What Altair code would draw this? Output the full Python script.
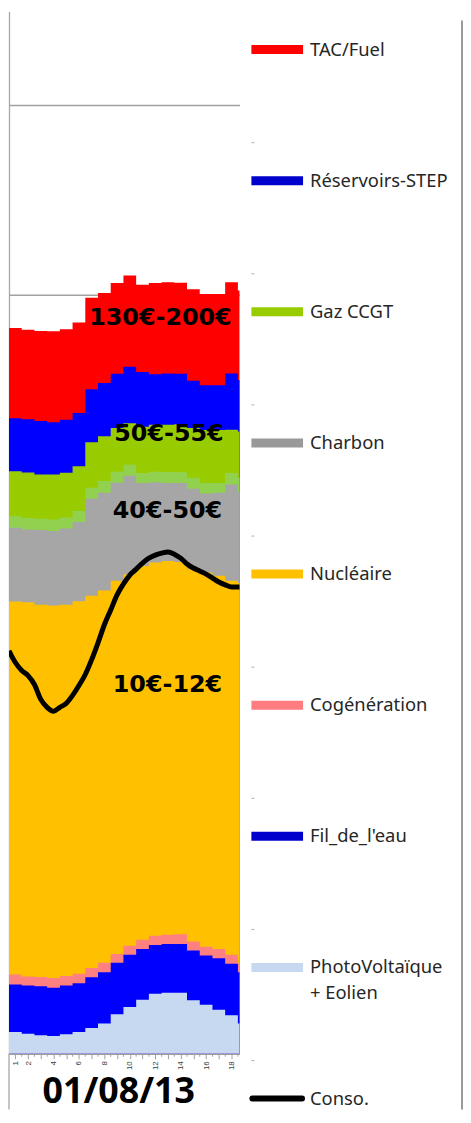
import altair as alt
import pandas as pd

# ---------------- data (MW) ----------------
hours = list(range(1, 20))

pv = [1150, 1060, 980, 930, 1030, 1150, 1360, 1590, 2080, 2460, 2850, 3160, 3210, 3210, 2820, 2580, 2320, 2030, 1590]
fil = [2500, 2540, 2570, 2550, 2570, 2570, 2670, 2710, 2710, 2760, 2670, 2570, 2570, 2570, 2620, 2590, 2710, 2710, 2710]
coge = [520, 470, 490, 510, 490, 490, 490, 490, 470, 470, 490, 490, 490, 520, 470, 470, 490, 470, 470]
nuc = [19660, 19710, 19620, 19620, 19570, 19630, 19610, 19610, 19660, 19570, 19690, 19660, 19690, 19610, 19620, 19710, 19660, 19710, 20030]
charbon = [3880, 3840, 3930, 3930, 4010, 4170, 5110, 5160, 5160, 5190, 4370, 4230, 4110, 4160, 4230, 4160, 4370, 5070, 4790]
gaz_autres = [610, 610, 600, 610, 580, 580, 580, 610, 580, 580, 520, 550, 580, 560, 580, 560, 520, 610, 750]
gaz = [2360, 2390, 2320, 2360, 2360, 2360, 2390, 2360, 2310, 2190, 2440, 2480, 2480, 2530, 2620, 2790, 2790, 2270, 2440]
step = [2800, 2800, 2830, 2760, 2790, 2800, 2800, 2800, 2850, 2970, 2880, 2660, 2710, 2660, 2500, 2360, 2360, 2970, 2710]
tac = [4750, 4720, 4730, 4790, 4770, 4770, 4820, 4750, 4790, 4810, 4600, 4800, 4800, 4800, 4810, 4810, 4810, 4800, 4720]

conso_hours = [0.5, 1.0, 1.5, 2.0, 2.5, 3.0, 3.5, 4.0, 4.5, 5.0, 5.5, 6.0, 6.5, 7.0, 7.5, 8.0, 8.5, 9.0, 9.5,
               10.0, 10.5, 11.0, 11.5, 12.0, 12.5, 13.0, 13.5, 14.0, 14.5, 15.0, 15.5, 16.0, 16.5, 17.0,
               17.5, 18.0, 18.5, 19.0]
conso = [21230, 20610, 20190, 19920, 19450, 18670, 18250, 18040, 18250, 18460, 18880, 19400, 19980, 20760,
         21650, 22600, 23380, 24170, 24750, 25220, 25530, 25850, 26110, 26270, 26370, 26430, 26320, 26110,
         25800, 25590, 25430, 25270, 25060, 24850, 24700, 24590, 24590, 24590]

series_names = ["PhotoVoltaïque + Eolien", "Fil_de_l'eau", "Cogénération", "Nucléaire", "Charbon",
                "Gaz (autres)", "Gaz CCGT", "Réservoirs-STEP", "TAC/Fuel"]
series_values = [pv, fil, coge, nuc, charbon, gaz_autres, gaz, step, tac]
series_colors = ["#c6d9f1", "#0000ff", "#ff8080", "#ffc000", "#a6a6a6", "#92d050", "#99cc00", "#0000ff", "#ff0000"]

price_labels = ["130€-200€", "50€-55€", "40€-50€", "10€-12€"]
price_hour = [12.41, 13.08, 12.96, 12.96]
price_mw = [38380, 32260, 28240, 19070]

legend_labels = ["TAC/Fuel", "Réservoirs-STEP", "Gaz CCGT", "Charbon", "Nucléaire", "Cogénération",
                 "Fil_de_l'eau", "PhotoVoltaïque\n+ Eolien", "Conso."]
legend_colors = ["#ff0000", "#0000cc", "#99cc00", "#999999", "#ffc000", "#ff7c80", "#0000cc", "#c6d9f1", "#000000"]

date_label = "01/08/13"
tick_hours = list(range(1, 19))

# ---------------- tables ----------------
cum = []
running = [0] * len(hours)
for vals in series_values:
    running = [r + v for r, v in zip(running, vals)]
    cum.append(list(running))

XDOM = [0.5, 18.625]
YDOM = [0, 54900]
W, H = 232, 1049
BOTTOM_EXT = 56
LEG_W = 214
xs = alt.Scale(domain=XDOM, nice=False, zero=False)
ys = alt.Scale(domain=YDOM, nice=False, zero=True)

x_axis = alt.Axis(
    values=tick_hours, format="d",
    labelExpr="datum.value == 1 || datum.value % 2 == 0 ? datum.label : ''",
    labelAngle=-90, labelFontSize=8, labelFont="Liberation Sans", labelColor="#404040",
    labelPadding=2, labelFlush=False, labelOverlap=False,
    tickSize=5, tickColor="#a0a0a0", tickWidth=1,
    domainColor="#a0a0a0", domainWidth=1.3, grid=False,
    title=date_label, titleFont="Noto Sans", titleFontSize=36, titleFontWeight="bold",
    titleColor="#000000", titleX=110, titleY=49, titleBaseline="alphabetic", titleAlign="center",
)
y_axis = alt.Axis(
    values=[10000, 20000, 30000, 40000, 50000], labels=False, ticks=False, title=None,
    grid=True, gridColor="#a0a0a0", gridWidth=1.5, domainColor="#a6a6a6", domainWidth=1.3,
)

layers = []
for k in range(len(series_names) - 1, -1, -1):
    xs_k = [h - 0.5 for h in hours] + [hours[-1] + 0.5]
    tops = cum[k] + [cum[k][-1]]
    d = pd.DataFrame({"x": xs_k, "top": tops})
    layers.append(
        alt.Chart(d).mark_area(interpolate="step-after", clip=True, color=series_colors[k], opacity=1).encode(
            x=alt.X("x:Q", scale=xs, axis=x_axis),
            y=alt.Y("top:Q", scale=ys, axis=y_axis, stack=None),
        )
    )

conso_df = pd.DataFrame({"x": conso_hours, "top": conso})
line = alt.Chart(conso_df).mark_line(color="#000000", strokeWidth=5, interpolate="monotone", clip=True).encode(
    x=alt.X("x:Q", scale=xs, axis=x_axis),
    y=alt.Y("top:Q", scale=ys, axis=y_axis),
)

lab_df = pd.DataFrame({"x": price_hour, "top": price_mw, "txt": price_labels})
labels = alt.Chart(lab_df).mark_text(
    font="DejaVu Sans", fontSize=24, fontWeight="bold", color="#000000", align="center", baseline="alphabetic"
).encode(
    x=alt.X("x:Q", scale=xs, axis=x_axis),
    y=alt.Y("top:Q", scale=ys, axis=y_axis),
    text="txt:N",
)

minor_df = pd.DataFrame({"x": [h - 0.5 for h in hours[1:]]})
minor = alt.Chart(minor_df).mark_rule(color="#a0a0a0", strokeWidth=1).encode(
    x=alt.X("x:Q", scale=xs, axis=x_axis),
    y=alt.value(H), y2=alt.value(H + 3),
)

left_ext = alt.Chart(pd.DataFrame({"a": [0]})).mark_rule(color="#a6a6a6", strokeWidth=1.3).encode(
    x=alt.value(0), y=alt.value(H), y2=alt.value(H + BOTTOM_EXT),
)

main = alt.layer(*layers, line, labels, minor, left_ext).properties(width=W, height=H)

# ---------------- legend panel ----------------
leg_df = pd.DataFrame({
    "idx": list(range(len(legend_labels))),
    "name": legend_labels,
    "line1": [s.split("\n")[0] for s in legend_labels],
    "line2": [s.split("\n")[1] if "\n" in s else "" for s in legend_labels],
})
ly = alt.Scale(domain=[-0.2895, 7.658], reverse=True, nice=False, zero=False)
lcol = alt.Scale(domain=legend_labels, range=legend_colors)

sw = alt.Chart(leg_df).transform_filter("datum.name != 'Conso.'").mark_rule(strokeWidth=9).encode(
    x=alt.value(2), x2=alt.value(54),
    y=alt.Y("idx:Q", scale=ly, axis=None),
    color=alt.Color("name:N", scale=lcol, legend=None),
)
sw_line = alt.Chart(leg_df).transform_filter("datum.name == 'Conso.'").mark_rule(
    strokeWidth=6, strokeCap="round", color="#000000"
).encode(
    x=alt.value(3), x2=alt.value(53),
    y=alt.Y("idx:Q", scale=ly, axis=None),
)
t1 = alt.Chart(leg_df).mark_text(align="left", baseline="middle", font="Noto Sans", fontSize=18.5,
                                 color="#262626").encode(
    x=alt.value(61), y=alt.Y("idx:Q", scale=ly, axis=None), text="line1:N",
)
t2 = alt.Chart(leg_df).transform_filter("datum.line2 != ''").mark_text(
    align="left", baseline="middle", font="Noto Sans", fontSize=18.5, color="#262626", dy=26
).encode(
    x=alt.value(61), y=alt.Y("idx:Q", scale=ly, axis=None), text="line2:N",
)
dash_df = pd.DataFrame({"p": [i + 0.71 for i in range(len(legend_labels) - 1)]})
dashes = alt.Chart(dash_df).mark_rule(color="#b0b0b0", strokeWidth=1).encode(
    x=alt.value(2), x2=alt.value(5), y=alt.Y("p:Q", scale=ly, axis=None),
)
border = alt.Chart(pd.DataFrame({"a": [0]})).mark_rule(color="#777777", strokeWidth=1.5).encode(
    x=alt.value(LEG_W), y=alt.value(9), y2=alt.value(H + BOTTOM_EXT),
)
legend = alt.layer(dashes, sw, sw_line, t1, t2, border).properties(width=LEG_W, height=H)

chart = alt.hconcat(main, legend, spacing=7, padding=0).configure_view(stroke=None).properties(background="white")

chart.save("out.html", embed_options={"renderer": "svg", "actions": False})
